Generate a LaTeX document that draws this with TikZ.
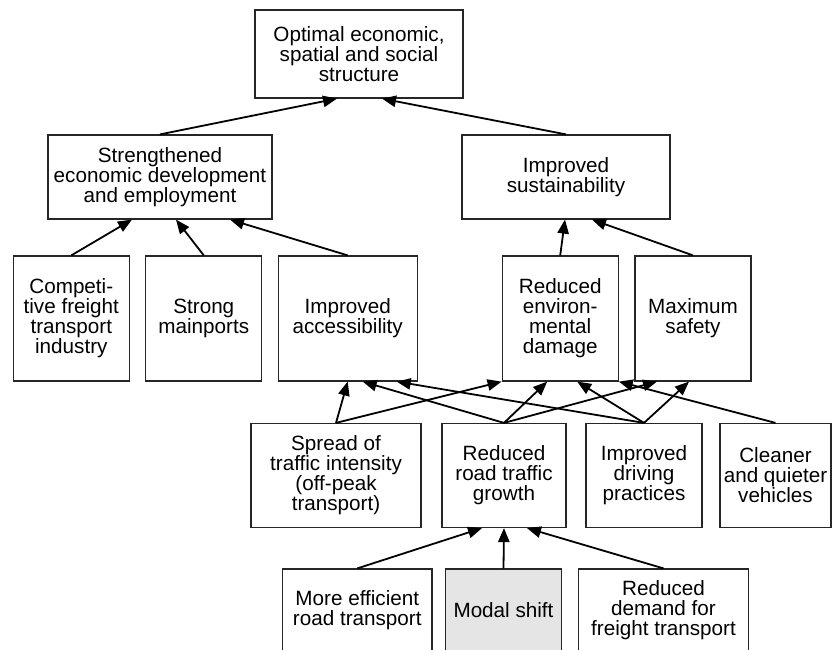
\documentclass[tikz,border=0pt]{standalone}
\usepackage{fontspec}
\setmainfont{Liberation Sans}
\usetikzlibrary{arrows.meta,calc}
\definecolor{modalgray}{gray}{0.9}
\begin{document}
\begin{tikzpicture}[x=0.75pt,y=-0.75pt,
  box/.style={draw=black!85, line width=0.9pt, fill=white, align=center,
    inner sep=0pt, font=\fontsize{15.5}{15}\selectfont},
  sz/.style 2 args={minimum width=#1*0.75pt, minimum height=#2*0.75pt},
  link/.style={-{Triangle[length=10.5pt,width=8.5pt]}, line width=1.35pt, black}]
\useasboundingbox (0,0) rectangle (833,650);
\clip (0,0) rectangle (833,650);
\fill[white] (0,0) rectangle (833,650);

% goal hierarchy
\node[box, sz={208}{88}] (top) at (359,54) {Optimal economic,\\spatial and social\\structure};
\node[box, sz={224}{84}] (econ) at (160,177) {Strengthened\\economic development\\and employment};
\node[box, sz={208}{84}] (sust) at (566,177) {Improved\\sustainability};

\node[box, sz={116}{125}] (comp) at (71.3,318.5) {Competi-\\tive freight\\transport\\industry};
\node[box, sz={116}{125}] (ports) at (203.8,318.5) {Strong\\mainports};
\node[box, sz={139}{125}] (access) at (347.7,318.5) {Improved\\accessibility};
\node[box, sz={116}{125}] (env) at (560.2,318.5) {Reduced\\environ-\\mental\\damage};
\node[box, sz={116}{125}] (safety) at (693,318.5) {Maximum\\safety};

\node[box, sz={170}{104}] (spread) at (336,475.5) {Spread of\\traffic intensity\\(off-peak\\transport)};
\node[box, sz={124}{104}] (growth) at (504,475.5) {Reduced\\road traffic\\growth};
\node[box, sz={116}{104}] (driving) at (644,475.5) {Improved\\driving\\practices};
\node[box, sz={111}{104}] (cleaner) at (775.5,475.5) {Cleaner\\and quieter\\vehicles};

\node[box, sz={149.5}{83}] (eff) at (357.3,610.5) {More efficient\\road transport};
\node[box, sz={115.7}{83}, fill=modalgray] (modal) at (503.5,610.5) {Modal shift};
\node[box, sz={170}{83}] (demand) at (663.5,610.5) {Reduced\\demand for\\freight transport};

% contributions to the top goal
\draw[link] (econ.north) -- ($(top.south)+(-22,0)$);
\draw[link] (sust.north) -- ($(top.south)+(23,0)$);

% second level
\draw[link] (comp.north) -- ($(econ.south)+(-28,0)$);
\draw[link] (ports.north) -- ($(econ.south)+(16,0)$);
\draw[link] (access.north) -- ($(econ.south)+(70,0)$);
\draw[link] (env.north) -- ($(sust.south)+(-1,0)$);
\draw[link] (safety.north) -- ($(sust.south)+(26,0)$);

% measures towards the third level
\draw[link] (spread.north) -- (access.south);
\draw[link] (spread.north) -- (env.south west);
\draw[link] (growth.north) -- ($(access.south)+(15,0)$);
\draw[link] (growth.north) -- ($(env.south)+(-13,0)$);
\draw[link] (growth.north) -- ($(safety.south)+(-36,0)$);
\draw[link] (driving.north) -- ($(access.south)+(49,0)$);
\draw[link] (driving.north) -- ($(env.south)+(17,0)$);
\draw[link] (driving.north) -- ($(safety.south)+(-4,0)$);
\draw[link] (cleaner.north) -- (env.south east);

% ways to reduce road traffic growth
\draw[link] (eff.north) -- ($(growth.south)+(-22,0)$);
\draw[link] (modal.north) -- (growth.south);
\draw[link] (demand.north) -- ($(growth.south)+(23,0)$);
\end{tikzpicture}
\end{document}
